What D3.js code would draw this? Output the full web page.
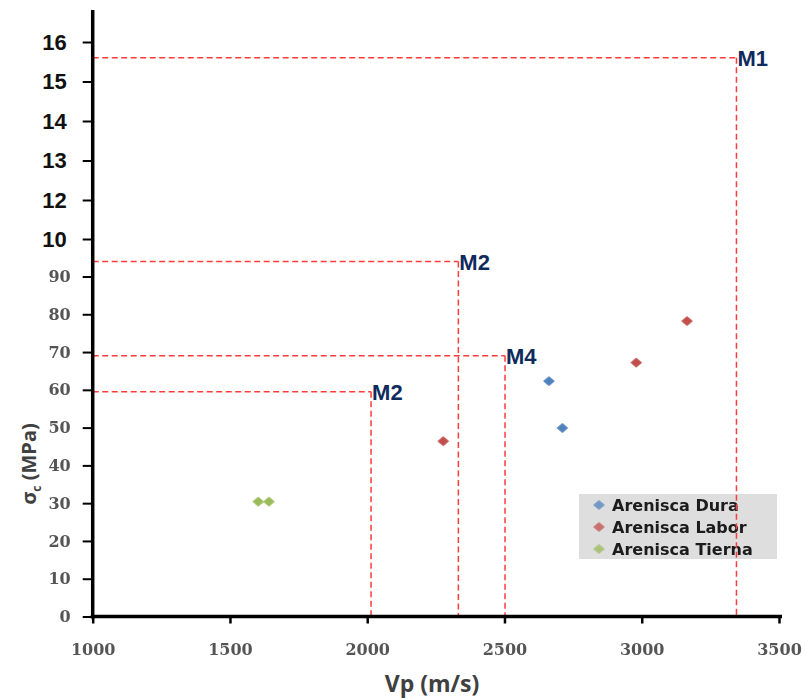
<!DOCTYPE html>
<html><head><meta charset="utf-8">
<script src="https://cdn.jsdelivr.net/npm/d3@7"></script>
<style>body{margin:0;background:#fff;} svg{display:block;}</style>
</head><body>
<div id="chart"></div>
<script>
// ---- data ----
const seriesNames = ["Arenisca Dura", "Arenisca Labor", "Arenisca Tierna"];
const seriesColors = ["#4f81bd", "#c0504d", "#9bbb59"];
const duraX = [2662, 2711];
const duraY = [62.3, 49.9];
const laborX = [2277, 2980, 3165];
const laborY = [46.4, 67.2, 78.2];
const tiernaX = [1603, 1642];
const tiernaY = [30.4, 30.4];
const refNames = ["M1", "M2", "M4", "M2"];
const refX = [3345, 2332, 2502, 2014];
const refY = [156, 94, 69, 59.5];
const xTicks = [1000, 1500, 2000, 2500, 3000, 3500];
const yTicksLow = [0, 10, 20, 30, 40, 50, 60, 70, 80, 90];
const yTicksLowLabels = ["0", "10", "20", "30", "40", "50", "60", "70", "80", "90"];
const yTicksHigh = [100, 120, 130, 140, 150, 160];
const yTicksHighLabels = ["10", "12", "13", "14", "15", "16"];
const xTitle = "Vp (m/s)";

// ---- layout ----
const W = 805, H = 698;
const x0 = 92.7, x1 = 779, yBottom = 616.5;
const svg = d3.select("#chart").append("svg").attr("width", W).attr("height", H);

const x = d3.scaleLinear().domain([1000, 3500]).range([x0, x1]);
const y = d3.scaleLinear().domain([0, 90, 100, 120, 160]).range([yBottom, 276.5, 239, 200, 42]);

const defs = svg.append("defs");
defs.append("filter").attr("id", "soft").append("feGaussianBlur").attr("stdDeviation", 0.7);
defs.append("filter").attr("id", "softText").append("feGaussianBlur").attr("stdDeviation", 0.35);

// legend (drawn under the reference lines)
const lg = svg.append("g");
lg.append("rect").attr("x", 579).attr("y", 494).attr("width", 198).attr("height", 65).attr("fill", "#dedede");
const diamond = d3.symbol().type(d3.symbolSquare).size(68);
seriesNames.forEach((n, i) => {
  const cy = 505 + i * 22;
  lg.append("path").attr("d", diamond()).attr("transform", `translate(599,${cy}) scale(1,0.85) rotate(45)`)
    .attr("fill", seriesColors[i]).attr("opacity", 0.75).attr("filter", "url(#soft)");
  lg.append("text").attr("x", 612).attr("y", cy + 6).text(n)
    .attr("font-family", "DejaVu Sans").attr("font-weight", "bold").attr("font-size", 16).attr("fill", "#1a1a1a")
    .attr("filter", "url(#softText)");
});

// reference dashed lines
const refs = refNames.map((n, i) => ({n, x: refX[i], y: refY[i]}));
const rg = svg.append("g");
refs.forEach(r => {
  rg.append("line").attr("x1", x0).attr("x2", x(r.x)).attr("y1", y(r.y)).attr("y2", y(r.y))
    .attr("stroke", "#ff3c3c").attr("stroke-width", 1.5).attr("stroke-dasharray", "6,3.5");
  rg.append("line").attr("x1", x(r.x)).attr("x2", x(r.x)).attr("y1", y(r.y)).attr("y2", yBottom)
    .attr("stroke", "#ff3c3c").attr("stroke-width", 1.5).attr("stroke-dasharray", "6,3.5");
  rg.append("text").attr("x", x(r.x) + 1).attr("y", y(r.y) + 8).text(r.n)
    .attr("font-family", "Liberation Sans, Arial").attr("font-weight", "bold").attr("font-size", 22)
    .attr("fill", "#0f2a5c");
});

// points
const series = [
  {xs: duraX, ys: duraY, c: seriesColors[0]},
  {xs: laborX, ys: laborY, c: seriesColors[1]},
  {xs: tiernaX, ys: tiernaY, c: seriesColors[2]}
];
const pg = svg.append("g");
series.forEach(s => {
  pg.selectAll(null).data(s.xs.map((v, i) => [v, s.ys[i]])).enter().append("path")
    .attr("d", diamond())
    .attr("transform", d => `translate(${x(d[0])},${y(d[1])}) scale(1,0.85) rotate(45)`)
    .attr("fill", s.c).attr("filter", "url(#soft)");
});

// axes
const xAxis = d3.axisBottom(x).tickValues(xTicks).tickSize(7).tickFormat(d3.format("d"));
const gx = svg.append("g").attr("transform", `translate(0,${yBottom})`).call(xAxis);
gx.select(".domain").remove();
gx.selectAll(".tick line").attr("stroke", "#000").attr("stroke-width", 2.5);
gx.selectAll(".tick text").attr("y", 38).attr("dy", 0)
  .attr("font-family", "DejaVu Serif").attr("font-weight", "bold").attr("font-size", 16)
  .attr("fill", "#555").attr("filter", "url(#softText)");

const yAxisLow = d3.axisLeft(y).tickValues(yTicksLow).tickSize(10)
  .tickFormat((d, i) => yTicksLowLabels[i]);
const gyl = svg.append("g").attr("transform", `translate(${x0},0)`).call(yAxisLow);
gyl.select(".domain").remove();
gyl.selectAll(".tick line").attr("stroke", "#000").attr("stroke-width", 2);
gyl.selectAll(".tick text").attr("x", -22)
  .attr("font-family", "DejaVu Serif").attr("font-weight", "bold").attr("font-size", 16)
  .attr("fill", "#555").attr("filter", "url(#softText)");

const yAxisHigh = d3.axisLeft(y).tickValues(yTicksHigh).tickSize(10)
  .tickFormat((d, i) => yTicksHighLabels[i]);
const gyh = svg.append("g").attr("transform", `translate(${x0},0)`).call(yAxisHigh);
gyh.select(".domain").remove();
gyh.selectAll(".tick line").attr("stroke", "#000").attr("stroke-width", 2);
gyh.selectAll(".tick text").attr("x", -26)
  .attr("font-family", "Liberation Sans, Arial").attr("font-weight", "bold").attr("font-size", 22)
  .attr("fill", "#111");

// axis lines
svg.append("line").attr("x1", x0).attr("x2", x0).attr("y1", 10).attr("y2", yBottom + 2)
  .attr("stroke", "#000").attr("stroke-width", 3.5);
svg.append("line").attr("x1", x0 - 2).attr("x2", 782).attr("y1", yBottom).attr("y2", yBottom)
  .attr("stroke", "#000").attr("stroke-width", 3.5);

// titles
svg.append("text").attr("x", 432).attr("y", 692).attr("text-anchor", "middle").text(xTitle)
  .attr("font-family", "Open Sans").attr("font-weight", "bold").attr("font-size", 23).attr("fill", "#404040");
const yt = svg.append("text").attr("transform", "translate(36,464) rotate(-90)").attr("text-anchor", "middle")
  .attr("font-family", "Open Sans").attr("font-weight", "bold").attr("font-size", 20).attr("fill", "#404040");
yt.append("tspan").text("σ");
yt.append("tspan").attr("font-size", 12).attr("dy", 5).text("c");
yt.append("tspan").attr("dy", -5).text(" (MPa)");
</script>
</body></html>
